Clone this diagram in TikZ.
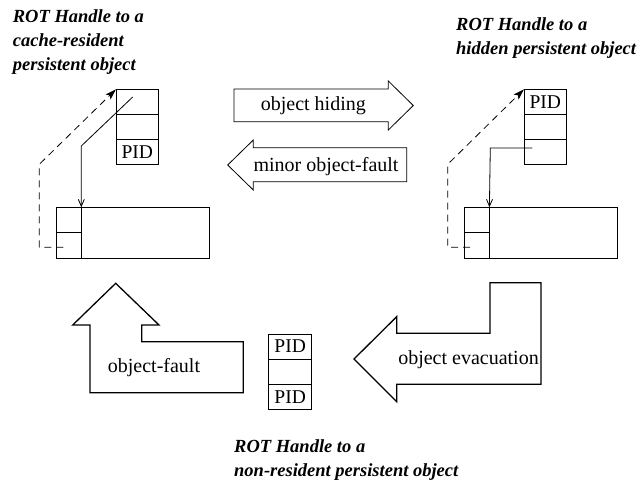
\documentclass[tikz,border=0pt]{standalone}
\usepackage{fontspec}
\setmainfont{Liberation Serif}
\usetikzlibrary{arrows.meta}

\begin{document}
\begin{tikzpicture}[x=1pt,y=-1pt,
  line join=miter,
  lbl/.style={font=\fontsize{20}{24}\selectfont, inner sep=0pt},
  heading/.style={font=\fontsize{18.5}{24}\selectfont\bfseries\itshape,
    align=left, inner sep=0pt, anchor=base west},
  cell/.style={draw, line width=0.8pt, minimum width=42.7pt, minimum height=25pt,
    inner sep=0pt, outer sep=0pt, font=\fontsize{19.5}{22}\selectfont},
  objbox/.style={draw, line width=0.8pt, minimum width=153.5pt, minimum height=50.7pt,
    inner sep=0pt, outer sep=0pt},
  slot/.style={draw, line width=0.8pt, minimum width=25.3pt, minimum height=25.35pt,
    inner sep=0pt, outer sep=0pt},
  thickrule/.style={line width=1.4pt},
  ptr/.style={line width=0.8pt, -{Straight Barb[length=7pt,width=6pt]}},
  back/.style={line width=0.8pt, dash pattern=on 7pt off 5pt,
    -{Stealth[length=11pt,width=7pt,inset=2.5pt]}},
  flow/.style={draw, line width=0.8pt},
  bigflow/.style={draw, line width=1.3pt},
]
\useasboundingbox (0,0) rectangle (638,483);

% ---------- headings (anchored at the baseline of the last line) ----------
\node[heading] (tl) at (12.7,70.7) {ROT Handle to a\\cache-resident\\persistent object};
\node[heading] (tr) at (456,54) {ROT Handle to a\\hidden persistent object};
\node[heading] (tb) at (234,476.7) {ROT Handle to a\\non-resident persistent object};

% ---------- cache-resident handle ----------
\node[cell] (L1) at (137.3,101.8) {};
\node[cell] (L2) at (137.3,126.8) {};
\node[cell] (L3) at (137.3,152.0) {PID};
\draw[thickrule] (L2.south west) -- (L2.south east);

\node[objbox] (LO) at (132.75,232.65) {};
\node[slot] (LOa) at (68.65,219.975) {};
\node[slot] (LOb) at (68.65,245.325) {};
\draw[thickrule] (LOa.north east) -- (LOb.south east);

\coordinate (ls) at (132.7,97);
\coordinate (lk) at (81.3,146);
\draw[ptr] (ls) -- (lk) -- (LOa.north east);

\coordinate (lq) at (63.3,247.3);
\coordinate (lc1) at (39.3,247.3);
\coordinate (lc2) at (39.3,164.3);
\draw[back] (lq) -- (lc1) -- (lc2) -- (L1.north west);

% ---------- hidden handle ----------
\node[cell] (R1) at (545.3,101.8) {PID};
\node[cell] (R2) at (545.3,126.8) {};
\node[cell] (R3) at (545.3,152.0) {};
\draw[thickrule] (R2.south west) -- (R2.south east);

\node[objbox] (RO) at (540.85,232.65) {};
\node[slot] (ROa) at (476.75,219.975) {};
\node[slot] (ROb) at (476.75,245.325) {};
\draw[line width=1pt] (ROa.north east) -- (ROb.south east);

\coordinate (rs) at (532.3,148);
\coordinate (rk) at (490.3,148);
\draw[ptr] (rs) -- (rk) -- (ROa.north east);

\coordinate (rq) at (470,247.3);
\coordinate (rc1) at (447.7,247.3);
\coordinate (rc2) at (447.7,164.3);
\draw[back] (rq) -- (rc1) -- (rc2) -- (R1.north west);

% ---------- non-resident handle ----------
\node[cell] (B1) at (290.2,346.6) {PID};
\node[cell] (B2) at (290.2,371.8) {};
\node[cell] (B3) at (290.2,396.8) {PID};

% ---------- transitions ----------
\path[flow] (234,89) -- (388.3,89) -- (388.3,81) -- (413.3,105.5)
  -- (388.3,130) -- (388.3,121.7) -- (234,121.7) -- cycle;
\node[lbl] (hide) at (313.3,106) {object hiding};

\path[flow] (227.7,165) -- (253.3,140) -- (253.3,147.7) -- (406.7,147.7)
  -- (406.7,181.7) -- (253.3,181.7) -- (253.3,190) -- cycle;
\node[lbl] (minor) at (326,166.5) {minor object-fault};

\path[bigflow] (115.7,283.3) -- (159,325) -- (141.7,325) -- (141.7,341.7)
  -- (243.3,341.7) -- (243.3,392.7) -- (90,392.7) -- (90,325) -- (72.7,325) -- cycle;
\node[lbl] (fault) at (154,368) {object-fault};

\path[bigflow] (354,359) -- (396.7,316.7) -- (396.7,333.3) -- (490,333.3)
  -- (490,282.7) -- (541,282.7) -- (541,384.3) -- (396.7,384.3)
  -- (396.7,401.7) -- cycle;
\node[lbl] (evac) at (468.5,360) {object evacuation};
\end{tikzpicture}
\end{document}
